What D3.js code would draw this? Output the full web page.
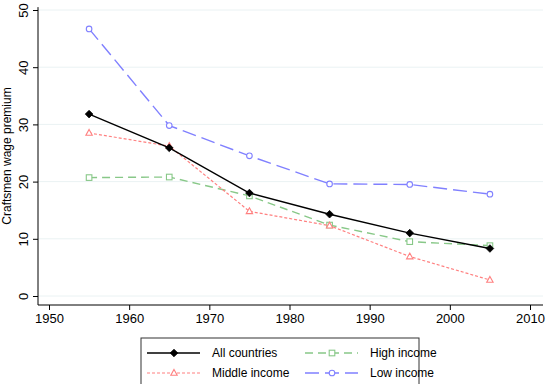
<!DOCTYPE html>
<html>
<head>
<meta charset="utf-8">
<script src="https://cdn.jsdelivr.net/npm/d3@7"></script>
<style>
body { margin: 0; background: #fff; }
text { font-family: "Liberation Sans", Arial, sans-serif; }
</style>
</head>
<body>
<div id="container"></div>
<script>
const years = [1955, 1965, 1975, 1985, 1995, 2005];
const allCountries = [31.8, 25.9, 18.0, 14.3, 11.0, 8.3];
const middleIncome = [28.5, 26.2, 14.8, 12.3, 6.9, 2.8];
const highIncome = [20.7, 20.8, 17.5, 12.4, 9.5, 8.8];
const lowIncome = [46.7, 29.8, 24.5, 19.6, 19.5, 17.8];
const xTicks = [1950, 1960, 1970, 1980, 1990, 2000, 2010];
const yTicks = [0, 10, 20, 30, 40, 50];

const width = 550, height = 384;

const series = [
  { name: "All countries", values: allCountries, color: "#000000", dash: null, marker: "diamond", width: 1.4 },
  { name: "Middle income", values: middleIncome, color: "#ff8080", dash: "3,2", marker: "triangle", width: 1.2 },
  { name: "High income", values: highIncome, color: "#88c888", dash: "8,5", marker: "square", width: 1.4 },
  { name: "Low income", values: lowIncome, color: "#8080ff", dash: "14,6", marker: "circle", width: 1.4 }
];

const x = d3.scaleLinear().domain([1950, 2010]).range([49, 530]);
const y = d3.scaleLinear().domain([0, 50]).range([296, 10]);

const svg = d3.select("#container").append("svg")
  .attr("width", width)
  .attr("height", height);

// grid
svg.selectAll("line.grid")
  .data(yTicks)
  .enter().append("line")
  .attr("class", "grid")
  .attr("x1", 38).attr("x2", 543)
  .attr("y1", d => y(d)).attr("y2", d => y(d))
  .attr("stroke", "#eaf2f3")
  .attr("stroke-width", 1);

// axes
const yAxis = svg.append("g")
  .attr("transform", "translate(38,0)")
  .call(d3.axisLeft(y).tickValues(yTicks).tickSize(5).tickFormat(d3.format("d")));
yAxis.select(".domain").attr("d", "M0," + y(50.5) + "V305").attr("stroke", "#000");
yAxis.selectAll(".tick text")
  .attr("font-size", 13)
  .attr("x", 0).attr("y", 0).attr("dy", 0)
  .attr("text-anchor", "middle")
  .attr("transform", "translate(-10,0) rotate(-90)");

const xAxis = svg.append("g")
  .attr("transform", "translate(0,305)")
  .call(d3.axisBottom(x).tickValues(xTicks).tickSize(5).tickPadding(4).tickFormat(d3.format("d")));
xAxis.select(".domain").attr("d", "M38,0H543").attr("stroke", "#000");
xAxis.selectAll(".tick text").attr("font-size", 13);

svg.append("text")
  .attr("transform", "translate(11,156) rotate(-90)")
  .attr("text-anchor", "middle")
  .attr("font-size", 12)
  .text("Craftsmen wage premium");

function drawMarker(g, type, cx, cy, color) {
  if (type === "diamond") {
    g.append("path").attr("d", "M0,-3.8L3.8,0L0,3.8L-3.8,0Z")
      .attr("transform", "translate(" + cx + "," + cy + ")")
      .attr("fill", color).attr("stroke", color).attr("stroke-width", 0.8);
  } else if (type === "triangle") {
    g.append("path").attr("d", "M0,-3.5L3.2,2.3L-3.2,2.3Z")
      .attr("transform", "translate(" + cx + "," + cy + ")")
      .attr("fill", "#fff").attr("stroke", color).attr("stroke-width", 1.1);
  } else if (type === "square") {
    g.append("rect").attr("x", cx - 2.8).attr("y", cy - 2.8).attr("width", 5.6).attr("height", 5.6)
      .attr("fill", "#fff").attr("stroke", color).attr("stroke-width", 1.1);
  } else {
    g.append("circle").attr("cx", cx).attr("cy", cy).attr("r", 2.8)
      .attr("fill", "#fff").attr("stroke", color).attr("stroke-width", 1.1);
  }
}

const line = d3.line().x(d => x(d[0])).y(d => y(d[1]));
const drawOrder = [series[2], series[1], series[3], series[0]];
drawOrder.forEach(s => {
  const pts = years.map((yr, i) => [yr, s.values[i]]);
  const g = svg.append("g");
  g.append("path").attr("d", line(pts))
    .attr("fill", "none").attr("stroke", s.color)
    .attr("stroke-width", s.width)
    .attr("stroke-dasharray", s.dash);
  pts.forEach(p => drawMarker(g, s.marker, x(p[0]), y(p[1]), s.color));
});

// legend
const legend = svg.append("g");
legend.append("rect")
  .attr("x", 141).attr("y", 338).attr("width", 278).attr("height", 60)
  .attr("fill", "#fff").attr("stroke", "#333").attr("stroke-width", 1);
const legendPos = [
  { s: series[0], x: 147, y: 353 },
  { s: series[2], x: 305, y: 353 },
  { s: series[1], x: 147, y: 373 },
  { s: series[3], x: 305, y: 373 }
];
legendPos.forEach(p => {
  legend.append("line")
    .attr("x1", p.x).attr("x2", p.x + 53)
    .attr("y1", p.y).attr("y2", p.y)
    .attr("stroke", p.s.color).attr("stroke-width", p.s.width)
    .attr("stroke-dasharray", p.s.dash);
  drawMarker(legend, p.s.marker, p.x + 27, p.y, p.s.color);
  legend.append("text")
    .attr("x", p.x + 52 + 13).attr("y", p.y)
    .attr("dy", "0.35em")
    .attr("font-size", 12)
    .text(p.s.name);
});
</script>
</body>
</html>
